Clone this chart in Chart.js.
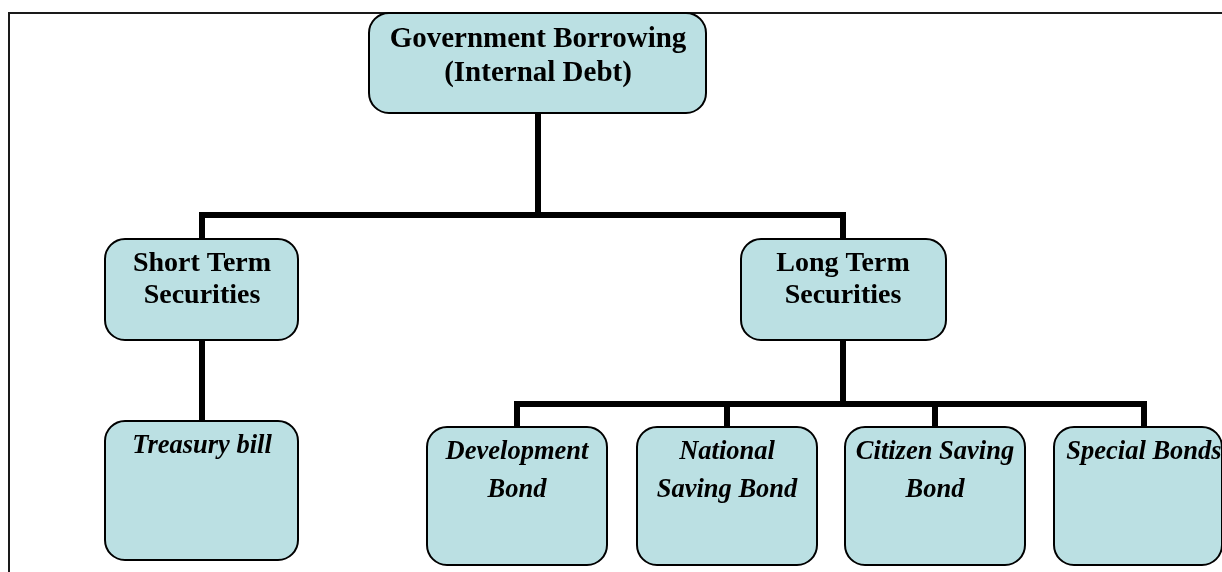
<!DOCTYPE html>
<html>
<head>
<meta charset="utf-8">
<script src="https://cdn.jsdelivr.net/npm/chart.js@4.4.0/dist/chart.umd.min.js"></script>
<style>
html,body{margin:0;padding:0;background:#ffffff;overflow:hidden}
canvas{display:block}
</style>
</head>
<body>
<canvas id="c" width="1222" height="572"></canvas>
<script>
// ---------- data ----------
const nodeLabels = [
  ["Government Borrowing", "(Internal Debt)"],
  ["Short Term", "Securities"],
  ["Long Term", "Securities"],
  ["Treasury bill"],
  ["Development", "Bond"],
  ["National", "Saving Bond"],
  ["Citizen Saving", "Bond"],
  ["Special Bonds"]
];
const nodeParents = [-1, 0, 0, 1, 2, 2, 2, 2];
const nodeLevels  = [0, 1, 1, 2, 3, 3, 3, 3];

// ---------- layout (data units of the hidden scales) ----------
const layout = {
  centerX:  [538, 202, 843, 202, 517, 727, 935, 1144],
  boxLeft:  [369, 105, 741, 105, 427, 637, 845, 1054],
  boxRight: [706, 298, 946, 298, 607, 817, 1025, 1222],
  levelTop:    [13, 239, 421, 427],
  levelBottom: [113, 340, 560, 565],
  busY: { 0: 215, 2: 404 },
  lineOffsets: [[34, 68], [32, 64], [32], [32, 70]],
  fonts: [
    "bold 29px 'Liberation Serif', 'Times New Roman', serif",
    "bold 28px 'Liberation Serif', 'Times New Roman', serif",
    "italic bold 26.5px 'Liberation Serif', 'Times New Roman', serif",
    "italic bold 26.5px 'Liberation Serif', 'Times New Roman', serif"
  ],
  frame: [[1222, 13], [9, 13], [9, 572]]
};
const styles = {
  fill: "#BBE0E3",
  border: "#000000",
  borderWidth: 2,
  radius: 20,
  connector: "#000000",
  connectorWidth: 6,
  frameColor: "#1a1a1a",
  frameWidth: 2,
  text: "#000000"
};

// ---------- build connector datasets ----------
const nodeTop = i => layout.levelTop[nodeLevels[i]];
const nodeBottom = i => layout.levelBottom[nodeLevels[i]];
const segments = [];
nodeLabels.forEach((_, p) => {
  const kids = nodeParents.map((q, i) => q === p ? i : -1).filter(i => i >= 0);
  if (!kids.length) return;
  if (kids.length === 1) {
    const c = kids[0];
    segments.push([{x: layout.centerX[p], y: nodeBottom(p)}, {x: layout.centerX[c], y: nodeTop(c)}]);
    return;
  }
  const bus = layout.busY[p];
  segments.push([{x: layout.centerX[p], y: nodeBottom(p)}, {x: layout.centerX[p], y: bus}]);
  const xs = kids.map(c => layout.centerX[c]);
  segments.push([{x: Math.min(...xs), y: bus}, {x: Math.max(...xs), y: bus}]);
  kids.forEach(c => segments.push([{x: layout.centerX[c], y: bus}, {x: layout.centerX[c], y: nodeTop(c)}]));
});

const datasets = [{
  data: layout.frame.map(([x, y]) => ({x, y})),
  showLine: true, pointRadius: 0, borderColor: styles.frameColor,
  borderWidth: styles.frameWidth, borderJoinStyle: 'miter', tension: 0
}].concat(segments.map(seg => ({
  data: seg, showLine: true, pointRadius: 0, borderColor: styles.connector,
  borderWidth: styles.connectorWidth, borderCapStyle: 'square', tension: 0
})));

// ---------- box plugin ----------
const boxPlugin = {
  id: 'boxes',
  afterDatasetsDraw(chart) {
    const ctx = chart.ctx;
    const xs = chart.scales.x, ys = chart.scales.y;
    nodeLabels.forEach((lines, i) => {
      const lv = nodeLevels[i];
      const cx = layout.centerX[i];
      const x0 = xs.getPixelForValue(layout.boxLeft[i]), x1 = xs.getPixelForValue(layout.boxRight[i]);
      const y0 = ys.getPixelForValue(layout.levelTop[lv]), y1 = ys.getPixelForValue(layout.levelBottom[lv]);
      ctx.save();
      ctx.beginPath();
      ctx.roundRect(x0, y0, x1 - x0, y1 - y0, styles.radius);
      ctx.fillStyle = styles.fill;
      ctx.fill();
      ctx.lineWidth = styles.borderWidth;
      ctx.strokeStyle = styles.border;
      ctx.stroke();
      ctx.fillStyle = styles.text;
      ctx.font = layout.fonts[lv];
      ctx.textAlign = 'center';
      ctx.textBaseline = 'alphabetic';
      const px = xs.getPixelForValue(cx);
      lines.forEach((t, k) => {
        ctx.fillText(t, px, ys.getPixelForValue(layout.levelTop[lv] + layout.lineOffsets[lv][k]));
      });
      ctx.restore();
    });
  }
};

new Chart(document.getElementById('c'), {
  type: 'scatter',
  data: { datasets },
  options: {
    responsive: false,
    animation: false,
    devicePixelRatio: 1,
    layout: { padding: 0 },
    plugins: { legend: { display: false }, tooltip: { enabled: false } },
    scales: {
      x: { type: 'linear', min: 0, max: 1222, display: false },
      y: { type: 'linear', min: 0, max: 572, reverse: true, display: false }
    },
    elements: { line: { fill: false } }
  },
  plugins: [boxPlugin]
});
</script>
</body>
</html>
